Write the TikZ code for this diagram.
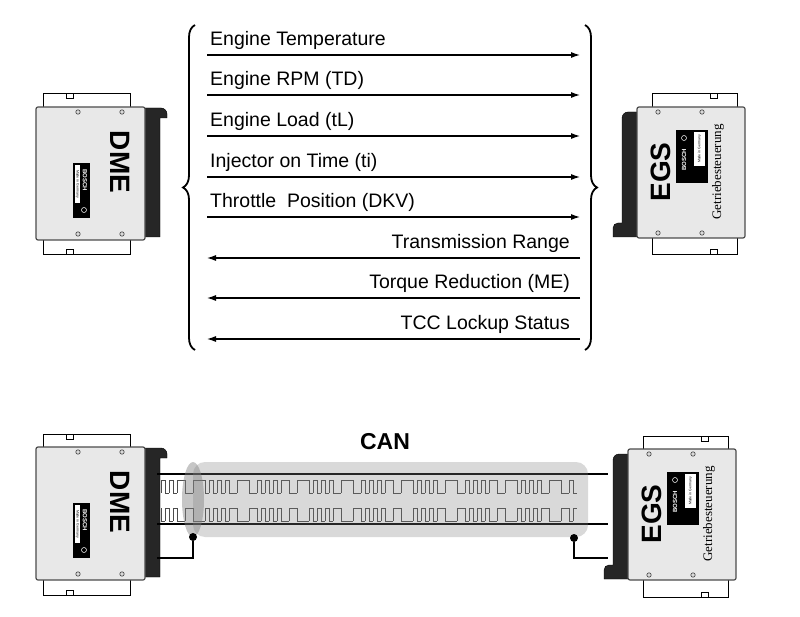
\documentclass[tikz,border=0pt]{standalone}
\usepackage{fontspec}
\setmainfont{Liberation Sans}
\newfontfamily\serifgs{Liberation Serif}
\usetikzlibrary{decorations.pathreplacing,arrows.meta}
\tikzset{
 body/.style={fill=gray!18,draw=gray!60!black,line width=1.2pt,rounded corners=2pt},
 tab/.style={fill=white,draw=black,line width=1pt},
 hole/.style={draw=gray!50!black,fill=gray!30,line width=0.6pt},
 conn/.style={fill=black!85,draw=black},
 sig/.style={-{Latex[length=9pt,width=6pt]},line width=1.1pt},
 lbl/.style={font=\fontsize{19.5}{21}\selectfont,inner sep=1pt},
 big/.style={font=\fontsize{28}{30}\selectfont\bfseries,inner sep=0pt},
 wave/.style={draw=black!70,line width=0.6pt},
}
\newcommand\dmeunit[3]{% dx, dy, prefix
\begin{scope}[shift={(#1,#2)}]
 \draw[tab] (43,94) rectangle (130,110);
 \draw[tab] (43,237) rectangle (130,255);
 \draw[tab] (66,94) rectangle (73,99);
 \draw[tab] (66,250) rectangle (73,255);
 \draw[conn] (145,108) -- (161,108) to[out=0,in=90] (167,114) -- (167,118) -- (160,118) -- (160,237) -- (145,237) -- cycle;
 \draw[body] (36,107) rectangle (145,240);
 \foreach \x in {78,122}{\draw[hole] (\x,112) circle (2.2); \draw[hole] (\x,234) circle (2.2);}
 \fill[black] (73,163) rectangle (90,218);
 \fill[white] (75,165) rectangle (80,203);
 \node[rotate=-90,text=white,font=\fontsize{6}{6}\selectfont\bfseries,inner sep=0] at (85,180) {BOSCH};
 \node[rotate=-90,font=\fontsize{3.5}{4}\selectfont,inner sep=0] at (77.5,184) {Made in Germany};
 \draw[white,line width=0.5pt] (84,210) circle (2.5);
 \node[big,rotate=-90] (#3) at (120,162) {DME};
\end{scope}}
\newcommand\egsunit[3]{%
\begin{scope}[shift={(#1,#2)}]
 \draw[tab] (652,94) rectangle (737,110);
 \draw[tab] (652,236) rectangle (737,255);
 \draw[tab] (710,250) rectangle (717,255);
 \draw[tab] (710,94) rectangle (717,99);
 \draw[conn] (637,112) -- (628,112) to[out=180,in=90] (622,118) -- (622,223) -- (618,223) to[out=180,in=90] (613,228) -- (613,237) -- (637,237) -- cycle;
 \draw[body] (637,107) rectangle (745,238);
 \foreach \x in {658,702}{\draw[hole] (\x,112) circle (2.2); \draw[hole] (\x,233) circle (2.2);}
 \fill[black] (676,130) rectangle (708,183);
 \fill[white] (694,132) rectangle (705,166);
 \node[rotate=90,text=white,font=\fontsize{6}{6}\selectfont\bfseries,inner sep=0] at (684,160) {BOSCH};
 \node[rotate=90,font=\fontsize{3.5}{4}\selectfont,inner sep=0] at (699.5,149) {Made in Germany};
 \draw[white,line width=0.5pt] (684,138) circle (2.5);
 \node[big,rotate=90] (#3) at (661,172) {EGS};
 \node[rotate=90,font=\serifgs\fontsize{13}{14}\selectfont,inner sep=0] (#3g) at (718,172) {Getriebesteuerung};
\end{scope}}
\begin{document}
\begin{tikzpicture}[x=1pt,y=-1pt]
\useasboundingbox (0,0) rectangle (800,617);
\dmeunit{0}{0}{dmeA}
\egsunit{0}{0}{egsA}
\draw[decorate,decoration={brace,amplitude=12pt},line width=1.8pt] (195,350) -- (195,25);
\draw[decorate,decoration={brace,amplitude=12pt},line width=1.8pt] (585,25) -- (585,350);
\foreach \y/\t [count=\i] in {55/Engine Temperature,95/Engine RPM (TD),136/Engine Load (tL),177/Injector on Time (ti),217/Throttle\ \ Position (DKV)}{
 \coordinate (a\i) at (207,\y); \coordinate (b\i) at (580,\y);
 \draw[sig] (a\i) -- (b\i);
 \node[lbl,anchor=south west] (t\i) at (209,\y-4) {\t};
}
\foreach \y/\t [count=\i] in {258/Transmission Range,298/Torque Reduction (ME),339/TCC Lockup Status}{
 \coordinate (c\i) at (580,\y); \coordinate (d\i) at (207,\y);
 \draw[sig] (c\i) -- (d\i);
 \node[lbl,anchor=south east] (u\i) at (571,\y-4) {\t};
}
\dmeunit{0}{340}{dmeB}
\egsunit{-9}{342}{egsB}
\node[font=\fontsize{23}{24}\selectfont\bfseries] (can) at (385,442) {CAN};
\def\bits{1,0,1,0,1,1,0,0,1,1,1,0,1,0,1,0,1,0,0,1,1,1,0,0,1,0,1,0,1,0,1,1,0,0,1,1,1,0,1,0,1,0,1,0,0,1,1,1,0,0,1,0,1,0,1,0,1,1,0,0,1,1,1,0,1,0,1,0,1,0,0,1,1,1,0,0,1,0,1,0,1,0,1,1,0,0,1,1,1,0,1,0,1,0,1,0,0,1,1,1,0,0,1,0}
\foreach \b [count=\i, remember=\b as \p (initially 0)] in \bits {
 \pgfmathsetmacro\xa{161+(\i-1)*4}
 \pgfmathsetmacro\ya{\b==1 ? 480 : 493}
 \pgfmathsetmacro\yb{\b==1 ? 521 : 508}
 \draw[wave] (\xa,\ya) -- ++(4,0);
 \draw[wave] (\xa,\yb) -- ++(4,0);
 \ifnum\b=\p\else
  \draw[wave] (\xa,480) -- (\xa,493);
  \draw[wave] (\xa,508) -- (\xa,521);
 \fi
}
\coordinate (w1) at (157,474); \coordinate (w2) at (608,474);
\coordinate (w3) at (157,524); \coordinate (w4) at (608,524);
\draw[line width=1.6pt] (w1) -- (w2);
\draw[line width=1.6pt] (w3) -- (w4);
\fill[gray,opacity=0.3,rounded corners=12pt] (193,462) -- (588,462) -- (588,537) -- (193,537) -- cycle;
\fill[gray,opacity=0.45] (193,499.5) ellipse (11 and 37.5);
\node[circle,fill=black,inner sep=0,minimum size=8pt] (g1) at (193,537) {};
\node[circle,fill=black,inner sep=0,minimum size=8pt] (g2) at (574,538) {};
\coordinate (e1) at (157,558); \coordinate (e2) at (608,558);
\draw[line width=1.4pt] (g1) |- (e1);
\draw[line width=1.4pt] (g2) |- (e2);
\end{tikzpicture}
\end{document}
